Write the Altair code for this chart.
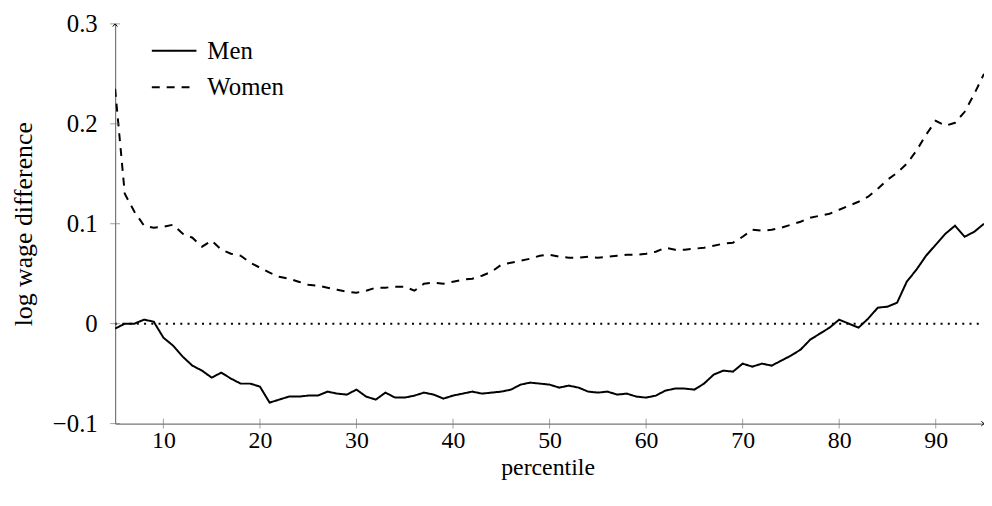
import altair as alt
import pandas as pd

percentile = list(range(5, 96))

men = [-0.005, 0.000, 0.000, 0.004, 0.002, -0.014, -0.022, -0.033, -0.042, -0.047,
       -0.054, -0.049, -0.055, -0.060, -0.060, -0.063, -0.079, -0.076, -0.073, -0.073,
       -0.072, -0.072, -0.068, -0.070, -0.071, -0.066, -0.073, -0.076, -0.069, -0.074,
       -0.074, -0.072, -0.069, -0.071, -0.075, -0.072, -0.070, -0.068, -0.070, -0.069,
       -0.068, -0.066, -0.061, -0.059, -0.060, -0.061, -0.064, -0.062, -0.064, -0.068,
       -0.069, -0.068, -0.071, -0.070, -0.073, -0.074, -0.072, -0.067, -0.065, -0.065,
       -0.066, -0.060, -0.051, -0.047, -0.048, -0.040, -0.043, -0.040, -0.042, -0.037,
       -0.032, -0.026, -0.016, -0.010, -0.004, 0.004, 0.000, -0.004, 0.005, 0.016,
       0.017, 0.021, 0.042, 0.054, 0.068, 0.079, 0.090, 0.098, 0.087, 0.092, 0.100]

women = [0.235, 0.130, 0.112, 0.098, 0.096, 0.097, 0.099, 0.090, 0.086, 0.077,
         0.083, 0.074, 0.070, 0.068, 0.061, 0.056, 0.051, 0.047, 0.045, 0.042,
         0.039, 0.038, 0.036, 0.034, 0.032, 0.031, 0.033, 0.036, 0.036, 0.037,
         0.037, 0.033, 0.040, 0.041, 0.040, 0.042, 0.044, 0.045, 0.048, 0.052,
         0.059, 0.061, 0.063, 0.065, 0.068, 0.069, 0.067, 0.066, 0.066, 0.067,
         0.066, 0.067, 0.068, 0.069, 0.069, 0.070, 0.072, 0.076, 0.074, 0.074,
         0.075, 0.076, 0.078, 0.080, 0.081, 0.087, 0.094, 0.093, 0.094, 0.096,
         0.099, 0.102, 0.106, 0.108, 0.110, 0.114, 0.118, 0.122, 0.127, 0.135,
         0.144, 0.151, 0.160, 0.173, 0.189, 0.203, 0.198, 0.201, 0.212, 0.230, 0.250]

series_names = ["Men", "Women"]
x_ticks = [10, 20, 30, 40, 50, 60, 70, 80, 90]
y_ticks = [-0.1, 0, 0.1, 0.2, 0.3]
x_domain = [5, 95]
y_domain = [-0.1, 0.3]

FONT = "Liberation Serif"
AXIS_COLOR = "#777777"

df = pd.DataFrame({
    "percentile": percentile * 2,
    "value": men + women,
    "series": [series_names[0]] * len(men) + [series_names[1]] * len(women),
})

xs = alt.Scale(domain=x_domain, nice=False, zero=False)
ys = alt.Scale(domain=y_domain, nice=False, zero=False)

label_expr = "datum.value < -0.05 ? '\u22120.1' : (abs(datum.value) < 0.001 ? '0' : format(datum.value, '.1f'))"

PLOT_W = 876
PLOT_H = 403

lines = alt.Chart(df).mark_line(strokeWidth=2, clip=True).encode(
    x=alt.X("percentile:Q", scale=xs,
            axis=alt.Axis(values=x_ticks, title="percentile", ticks=False,
                          labelPadding=5, labelFontSize=24, titleFontSize=24,
                          titleX=PLOT_W / 2 - 2, titleY=44,
                          titleBaseline="middle")),
    y=alt.Y("value:Q", scale=ys,
            axis=alt.Axis(values=y_ticks, title="log wage difference", ticks=False,
                          labelExpr=label_expr, labelPadding=18,
                          labelFontSize=25, titleFontSize=26,
                          titleX=-92, titleY=PLOT_H / 2, titleAngle=270,
                          titleBaseline="middle", titleAlign="center")),
    color=alt.Color("series:N", scale=alt.Scale(domain=series_names, range=["black", "black"]),
                    legend=alt.Legend(title=None, orient="none", legendX=36, legendY=3.5,
                                      symbolType="stroke", symbolSize=2025,
                                      symbolStrokeWidth=2, labelFontSize=25,
                                      labelFont=FONT, labelColor="black",
                                      rowPadding=-16, labelOffset=10)),
    strokeDash=alt.StrokeDash("series:N",
                              scale=alt.Scale(domain=series_names, range=[[1, 0], [8, 7]]),
                              legend=None),
)

zero_df = pd.DataFrame({"percentile": x_domain, "value": [0, 0]})
zero_line = alt.Chart(zero_df).mark_line(color="black", strokeWidth=2,
                                         strokeDash=[2, 5.3]).encode(
    x=alt.X("percentile:Q", scale=xs),
    y=alt.Y("value:Q", scale=ys),
)

yt_df = pd.DataFrame({"percentile": [x_domain[0]] * len(y_ticks), "value": y_ticks})
y_tick_marks = alt.Chart(yt_df).mark_tick(orient="horizontal", size=10, thickness=1,
                                          color=AXIS_COLOR).encode(
    x=alt.X("percentile:Q", scale=xs),
    y=alt.Y("value:Q", scale=ys),
)

xt_df = pd.DataFrame({"percentile": x_ticks, "value": [y_domain[0]] * len(x_ticks)})
x_tick_marks = alt.Chart(xt_df).mark_tick(orient="vertical", size=10, thickness=1,
                                          color=AXIS_COLOR).encode(
    x=alt.X("percentile:Q", scale=xs),
    y=alt.Y("value:Q", scale=ys),
)

arrow_df = pd.DataFrame({"percentile": [x_domain[0], x_domain[1]],
                         "value": [y_domain[1], y_domain[0]],
                         "angle": [0, 90]})
arrows = alt.Chart(arrow_df).mark_point(shape="M-0.6,0.7L0,0L0.6,0.7", size=60,
                                        filled=False, color="black", strokeWidth=1,
                                        opacity=1).encode(
    x=alt.X("percentile:Q", scale=xs),
    y=alt.Y("value:Q", scale=ys),
    angle=alt.Angle("angle:Q", scale=None),
)

chart = alt.layer(zero_line, lines, y_tick_marks, x_tick_marks, arrows).properties(
    width=PLOT_W, height=PLOT_H,
    autosize=alt.AutoSizeParams(type="none"),
    padding={"left": 108, "top": 14, "right": 0, "bottom": 70},
).configure_view(stroke=None).configure_axis(
    domainColor=AXIS_COLOR, domainWidth=1.2, grid=False,
    labelFont=FONT, titleFont=FONT,
    labelColor="black", titleColor="black", titleFontWeight="normal",
)

chart.save("out.html", embed_options={"renderer": "svg", "actions": False})
